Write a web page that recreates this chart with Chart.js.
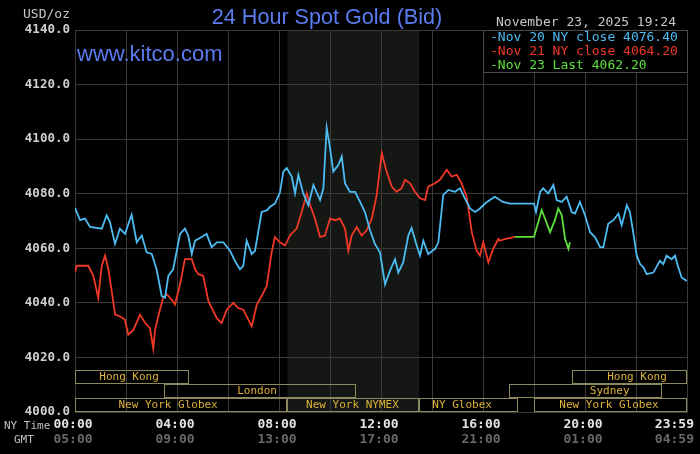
<!DOCTYPE html>
<html>
<head>
<meta charset="utf-8">
<title>24 Hour Spot Gold</title>
<script src="https://cdn.jsdelivr.net/npm/chart.js@4.4.0/dist/chart.umd.min.js"></script>
<style>
  html, body { margin: 0; padding: 0; background: #000; }
  canvas { display: block; }
</style>
</head>
<body>
<canvas id="goldChart" width="700" height="454"></canvas>
<script>
// Nov 20 (blue) - hours since 00:00 NY time, price in USD/oz
const nov20Hours = [0.00, 0.20, 0.39, 0.59, 1.05, 1.24, 1.37, 1.57, 1.76, 1.96, 2.22, 2.42, 2.62, 2.81, 3.01, 3.20, 3.40, 3.53, 3.66, 3.85,
  4.12, 4.31, 4.44, 4.58, 4.71, 4.97, 5.16, 5.36, 5.56, 5.82, 6.08, 6.27, 6.47, 6.60, 6.73, 6.93, 7.06, 7.32, 7.52, 7.65,
  7.84, 8.04, 8.17, 8.30, 8.50, 8.63, 8.76, 8.95, 9.15, 9.35, 9.61, 9.74, 9.87, 10.00, 10.13, 10.33, 10.46, 10.59, 10.78, 10.98,
  11.18, 11.37, 11.57, 11.76, 11.96, 12.16, 12.35, 12.55, 12.68, 12.87, 13.07, 13.20, 13.40, 13.53, 13.66, 13.85, 14.12, 14.25, 14.44, 14.64,
  14.90, 15.10, 15.29, 15.49, 15.69, 15.88, 16.08, 16.27, 16.47, 16.78, 17.06, 18.00, 18.08, 18.24, 18.36, 18.56, 18.76, 18.89, 19.09, 19.28,
  19.48, 19.61, 19.80, 20.00, 20.20, 20.39, 20.59, 20.72, 20.91, 21.11, 21.31, 21.44, 21.64, 21.76, 21.89, 22.03, 22.16, 22.29, 22.42, 22.68,
  22.94, 23.07, 23.20, 23.40, 23.53, 23.66, 23.79, 23.99];
const nov20Prices = [4074.8, 4070.3, 4070.9, 4067.8, 4067.2, 4072.1, 4069.6, 4061.6, 4067.2, 4065.3, 4072.3, 4062.2, 4064.7, 4058.5, 4057.9, 4052.3, 4042.5, 4041.9, 4049.9, 4052.3,
  4065.3, 4067.2, 4064.7, 4057.9, 4062.8, 4064.1, 4065.3, 4060.4, 4062.2, 4062.2, 4059.1, 4055.4, 4052.3, 4053.6, 4062.8, 4057.9, 4059.1, 4073.3, 4073.9, 4075.2,
  4076.4, 4080.5, 4088.1, 4089.4, 4086.3, 4080.1, 4086.9, 4080.1, 4075.8, 4083.2, 4077.7, 4082.0, 4104.2, 4096.8, 4088.1, 4090.6, 4093.7, 4083.8, 4080.7, 4080.7,
  4077.0, 4073.3, 4066.6, 4061.6, 4058.5, 4046.8, 4051.7, 4056.0, 4051.1, 4054.8, 4064.7, 4067.4, 4061.0, 4057.3, 4062.8, 4057.9, 4059.8, 4062.2, 4079.5, 4081.4,
  4080.7, 4082.0, 4078.3, 4074.6, 4073.3, 4074.6, 4076.4, 4077.7, 4078.9, 4077.0, 4076.4, 4076.4, 4073.3, 4080.7, 4082.0, 4080.1, 4083.2, 4077.7, 4077.0, 4078.9,
  4073.3, 4072.7, 4077.0, 4072.1, 4065.9, 4064.1, 4060.4, 4060.4, 4069.0, 4070.3, 4072.7, 4068.4, 4075.8, 4073.3, 4065.9, 4057.3, 4054.2, 4053.0, 4050.5, 4051.1,
  4055.4, 4054.2, 4057.3, 4056.0, 4057.3, 4053.0, 4049.3, 4048.0];

// Nov 21 (red)
const nov21Hours = [0.00, 0.07, 0.52, 0.72, 0.91, 1.05, 1.18, 1.31, 1.44, 1.57, 1.76, 1.96, 2.09, 2.29, 2.55, 2.75, 2.94, 3.07, 3.14, 3.33,
  3.46, 3.60, 3.79, 3.92, 4.12, 4.31, 4.58, 4.71, 4.84, 5.03, 5.23, 5.56, 5.75, 5.95, 6.21, 6.40, 6.60, 6.93, 7.13, 7.32,
  7.52, 7.71, 7.84, 8.04, 8.24, 8.43, 8.69, 8.89, 9.09, 9.22, 9.41, 9.61, 9.80, 10.00, 10.20, 10.39, 10.59, 10.72, 10.85, 11.05,
  11.24, 11.44, 11.64, 11.83, 12.03, 12.22, 12.42, 12.61, 12.81, 12.94, 13.14, 13.33, 13.53, 13.73, 13.85, 14.12, 14.31, 14.58, 14.77, 14.97,
  15.16, 15.36, 15.56, 15.75, 15.88, 16.01, 16.21, 16.40, 16.60, 16.67, 16.86, 17.25];
const nov21Prices = [4051.1, 4053.6, 4053.6, 4049.9, 4041.9, 4053.6, 4057.3, 4052.3, 4044.3, 4035.7, 4035.1, 4033.8, 4028.3, 4030.1, 4035.7, 4032.6, 4030.7, 4023.3, 4030.1, 4037.5,
  4041.9, 4043.1, 4041.2, 4039.4, 4046.8, 4056.0, 4056.0, 4052.3, 4050.5, 4049.9, 4040.6, 4034.4, 4032.6, 4037.5, 4040.0, 4038.1, 4037.5, 4031.4, 4039.4, 4042.5,
  4046.2, 4058.5, 4064.1, 4062.2, 4061.0, 4064.7, 4067.2, 4073.3, 4080.1, 4075.8, 4070.9, 4064.1, 4064.7, 4070.9, 4070.3, 4070.9, 4067.2, 4059.1, 4064.7, 4067.8,
  4064.7, 4066.6, 4070.9, 4079.5, 4094.9, 4088.1, 4082.6, 4080.7, 4082.0, 4085.1, 4083.8, 4080.7, 4078.3, 4077.7, 4082.6, 4083.8, 4085.1, 4088.8, 4086.3, 4086.9,
  4083.8, 4078.9, 4065.9, 4059.1, 4057.3, 4062.2, 4054.8, 4059.8, 4063.4, 4062.8, 4063.4, 4064.2];

// Nov 23 (green)
const nov23Hours = [17.25, 18.00, 18.17, 18.30, 18.43, 18.63, 18.82, 18.95, 19.09, 19.22, 19.35, 19.41];
const nov23Prices = [4064.2, 4064.2, 4069.6, 4074.0, 4070.9, 4065.9, 4070.3, 4074.6, 4072.1, 4063.4, 4059.8, 4062.2];

const priceMin = 4000;
const priceMax = 4140;
const priceStep = 20;

const tickHours = [0, 4, 8, 12, 16, 20, 24];
const nyTimeLabels = ['00:00', '04:00', '08:00', '12:00', '16:00', '20:00', '23:59'];
const gmtTimeLabels = ['05:00', '09:00', '13:00', '17:00', '21:00', '01:00', '04:59'];

// trading sessions (hours, NY time) and the bar row they sit in
const sessionNames = ['Hong Kong', 'London', 'New York Globex', 'New York NYMEX', 'NY Globex', 'Sydney', 'Hong Kong', 'New York Globex'];
const sessionStart = [0, 3.5, 0, 8.33, 13.5, 17, 19.5, 18];
const sessionEnd = [4.47, 11, 8.33, 13.5, 17.36, 23, 24, 24];
const sessionRow = [0, 1, 2, 2, 2, 1, 0, 2];
const sessionLabelAt = [2.12, 7.14, 3.65, 10.88, 15.18, 20.97, 22.04, 20.94];

const nymexHours = [8.33, 13.5];

const legendLabels = ['Nov 20 NY close', 'Nov 21 NY close', 'Nov 23 Last'];
const legendValues = [4076.40, 4064.20, 4062.20];
const lineColors = ['#4cbcf2', '#f03826', '#5ee03a'];

const titleText = '24 Hour Spot Gold (Bid)';
const stampText = 'November 23, 2025 19:24';

const MONO = '"DejaVu Sans Mono", "Liberation Mono", monospace';
const SANS = '"Liberation Sans", Arial, sans-serif';

function toPoints(hours, prices) {
  return hours.map((h, i) => ({ x: h, y: prices[i] }));
}

// Backgrounds, session bars, legend box and all the loose text
const kitcoDecor = {
  id: 'kitcoDecor',
  beforeDraw(chart) {
    const { ctx, chartArea: a, scales: { x } } = chart;
    ctx.save();
    ctx.fillStyle = '#000';
    ctx.fillRect(0, 0, chart.width, chart.height);
    // NYMEX hours shading
    const x0 = x.getPixelForValue(nymexHours[0]);
    const x1 = x.getPixelForValue(nymexHours[1]);
    ctx.fillStyle = '#141714';
    ctx.fillRect(x0, a.top, x1 - x0, a.bottom - a.top);
    ctx.restore();
  },
  afterDatasetsDraw(chart) {
    const { ctx, chartArea: a, scales: { x } } = chart;
    const rowH = 14;
    ctx.save();
    ctx.lineWidth = 1;
    ctx.strokeStyle = '#8e895c';
    ctx.fillStyle = '#dcb23a';
    ctx.font = '11px ' + MONO;
    ctx.textAlign = 'center';
    ctx.textBaseline = 'middle';
    sessionNames.forEach((name, i) => {
      const top = a.bottom - rowH * (3 - sessionRow[i]);
      const left = Math.round(x.getPixelForValue(sessionStart[i])) + 0.5;
      const right = Math.round(x.getPixelForValue(sessionEnd[i])) - 0.5;
      ctx.strokeRect(left, top + 0.5, right - left, rowH - 1);
      ctx.fillText(name, x.getPixelForValue(sessionLabelAt[i]), top + rowH / 2 + 0.5);
    });
    ctx.restore();
  },
  afterDraw(chart) {
    const { ctx, scales: { x } } = chart;
    ctx.save();

    // titles
    ctx.fillStyle = '#5b7cf0';
    ctx.font = '21.6px ' + SANS;
    ctx.textAlign = 'center';
    ctx.textBaseline = 'alphabetic';
    ctx.fillText(titleText, 327, 24);
    ctx.font = '22px ' + SANS;
    ctx.textAlign = 'left';
    ctx.fillText('www.kitco.com', 77, 61);

    ctx.fillStyle = '#c8c8c8';
    ctx.font = '13px ' + MONO;
    ctx.textBaseline = 'middle';
    ctx.fillText('USD/oz', 23, 15);
    ctx.textAlign = 'right';
    ctx.fillText(stampText, 676, 23);

    // legend box
    ctx.fillStyle = '#000';
    ctx.fillRect(483, 30, 205, 43);
    ctx.strokeStyle = '#4a4a4a';
    ctx.lineWidth = 1;
    ctx.strokeRect(483.5, 30.5, 204, 42);
    ctx.textAlign = 'left';
    ctx.font = '13px ' + MONO;
    legendLabels.forEach((label, i) => {
      ctx.fillStyle = lineColors[i];
      ctx.fillText('-' + label + ' ' + legendValues[i].toFixed(2), 490, 38 + i * 13.8);
    });

    // time axis labels
    ctx.textAlign = 'left';
    ctx.fillStyle = '#c0c0c0';
    ctx.font = '11px ' + MONO;
    ctx.fillText('NY Time', 4, 426);
    ctx.fillText('GMT', 14, 440);
    ctx.font = 'bold 13px ' + MONO;
    ctx.textAlign = 'center';
    tickHours.forEach((h, i) => {
      let px = x.getPixelForValue(h) - 2;
      const half = ctx.measureText(nyTimeLabels[i]).width / 2;
      px = Math.min(px, chart.width - 6 - half);
      ctx.fillStyle = '#e4e4e4';
      ctx.fillText(nyTimeLabels[i], px, 425);
      ctx.fillStyle = '#686868';
      ctx.fillText(gmtTimeLabels[i], px, 440);
    });
    ctx.restore();
  }
};

const ctx = document.getElementById('goldChart').getContext('2d');
const gridColor = '#3a3a3a';

const goldChart = new Chart(ctx, {
  type: 'line',
  data: {
    datasets: [
      { label: legendLabels[0], data: toPoints(nov20Hours, nov20Prices), borderColor: lineColors[0] },
      { label: legendLabels[1], data: toPoints(nov21Hours, nov21Prices), borderColor: lineColors[1] },
      { label: legendLabels[2], data: toPoints(nov23Hours, nov23Prices), borderColor: lineColors[2] }
    ]
  },
  options: {
    responsive: false,
    animation: false,
    datasets: {
      line: { borderWidth: 1.8, pointRadius: 0, tension: 0, fill: false }
    },
    layout: { padding: { top: 30, right: 13, left: 0, bottom: 0 } },
    plugins: {
      legend: { display: false },
      tooltip: { enabled: false }
    },
    scales: {
      x: {
        type: 'linear',
        min: 0,
        max: 24,
        ticks: { display: false, stepSize: 2 },
        grid: { color: gridColor, drawTicks: false },
        border: { color: gridColor },
        afterFit(scale) { scale.height = 42; }
      },
      y: {
        min: priceMin,
        max: priceMax,
        ticks: {
          stepSize: priceStep,
          padding: 5,
          color: '#d0d0d0',
          font: { family: MONO, size: 12.5, weight: 'bold' },
          callback: value => value.toFixed(1)
        },
        grid: { color: gridColor, drawTicks: false },
        border: { color: gridColor },
        afterFit(scale) { scale.width = 75; }
      }
    }
  },
  plugins: [kitcoDecor]
});
</script>
</body>
</html>
